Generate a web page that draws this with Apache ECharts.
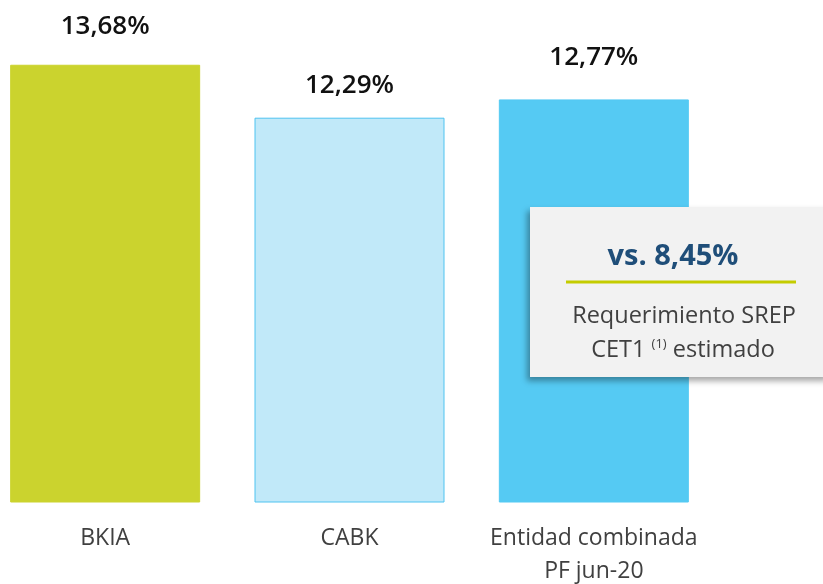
<!DOCTYPE html>
<html><head><meta charset="utf-8">
<script src="https://cdn.jsdelivr.net/npm/echarts@6/dist/echarts.min.js"></script>
<style>html,body{margin:0;padding:0;background:#fff}#c{width:823px;height:584px}</style>
</head><body><div id="c"></div>
<script>
const categories = ['BKIA', 'CABK', 'Entidad combinada\nPF jun-20'];
const values = [13.68, 12.29, 12.77];
const valueLabels = ['13,68%', '12,29%', '12,77%'];
const barColors = ['#CBD32E', '#C1E9F9', '#55CAF3'];
const barBorders = ['#CBD32E', '#4EC3F0', '#55CAF3'];
const calloutValue = 'vs. 8,45%';
const calloutLine1 = 'Requerimiento SREP';

const labelGaps = [25, 19, 29];

const chart = echarts.init(document.getElementById('c'));
const FONT = '"Open Sans", sans-serif';
chart.setOption({
  animation: false,
  grid: { left: -17, width: 733, top: 40, bottom: 82, containLabel: false, outerBoundsMode: 'none' },
  xAxis: {
    type: 'category', data: categories,
    axisLine: { show: false }, axisTick: { show: false },
    axisLabel: { interval: 0, hideOverlap: false, color: '#404040', fontSize: 23, fontFamily: FONT, margin: 20, lineHeight: 33 }
  },
  yAxis: { type: 'value', min: 2.2, max: 14.33, show: false, splitLine: { show: false } },
  series: [{
    type: 'bar', barWidth: 190,
    data: values.map((v, i) => ({
      value: v,
      itemStyle: { color: barColors[i], borderColor: barBorders[i], borderWidth: 1 },
      label: { formatter: valueLabels[i], distance: labelGaps[i] }
    })),
    label: { show: true, position: 'top', color: '#111', fontSize: 26, fontWeight: 600, fontFamily: FONT }
  }],
  graphic: [
    { type: 'rect', shape: { x: 530, y: 207, width: 300, height: 170 },
      style: { fill: '#F2F2F2', shadowBlur: 6, shadowOffsetX: -3, shadowOffsetY: 4, shadowColor: 'rgba(0,0,0,0.35)' }, z: 10 },
    { type: 'text', x: 673, y: 257, z: 11,
      style: { text: calloutValue, fill: '#1F4E79', font: 'bold 29px "Open Sans", sans-serif', textAlign: 'center', textVerticalAlign: 'middle' } },
    { type: 'line', shape: { x1: 566, y1: 282, x2: 796, y2: 282 }, style: { stroke: '#C4CC00', lineWidth: 3 }, z: 11 },
    { type: 'text', x: 684, y: 316, z: 11,
      style: { text: calloutLine1, fill: '#404040', font: '23.5px "Open Sans", sans-serif', textAlign: 'center', textVerticalAlign: 'middle' } },
    { type: 'text', x: 683, y: 350, z: 11,
      style: {
        text: '{a|CET1 }{s|(1)}{a| estimado}',
        textAlign: 'center', textVerticalAlign: 'middle',
        rich: {
          a: { fill: '#404040', fontSize: 23.5, fontFamily: FONT, lineHeight: 30 },
          s: { fill: '#404040', fontSize: 13, fontFamily: FONT, lineHeight: 30, padding: [0, 0, 12, 0] }
        }
      } }
  ]
});
</script></body></html>
